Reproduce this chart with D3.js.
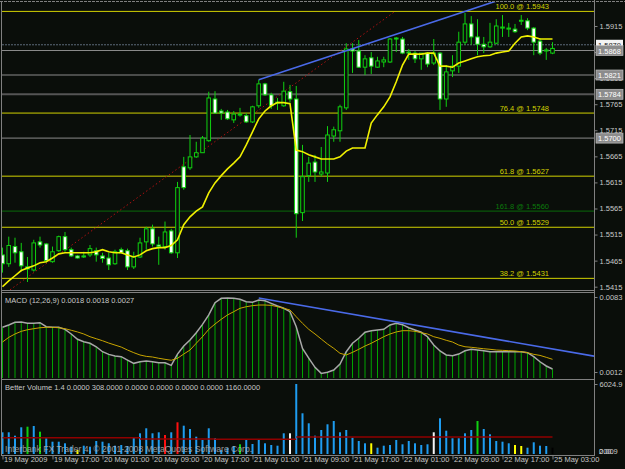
<!DOCTYPE html>
<html><head><meta charset="utf-8">
<script src="https://cdnjs.cloudflare.com/ajax/libs/d3/7.8.5/d3.min.js"></script>
<style>
html,body{margin:0;padding:0;background:#0a0e0a;}
svg{display:block;font-family:"Liberation Sans",Arial,sans-serif;}
</style></head>
<body><svg id="chart" width="625" height="469"></svg>
<script>
// GBPUSD-like H1 bars, 19 May 2009 09:00 .. 25 May 03:00
var openP=[1.5476,1.5459,1.5492,1.5482,1.5453,1.5447,1.5501,1.5497,1.5463,1.5484,
1.5511,1.5486,1.5474,1.5474,1.5476,1.5484,1.5474,1.5470,1.5459,1.5486,
1.5484,1.5453,1.5472,1.5501,1.5526,1.5495,1.5492,1.5522,1.5480,1.5645,
1.5643,1.5664,1.5672,1.5695,1.5775,1.5752,1.5750,1.5735,1.5745,1.5743,
1.5731,1.5762,1.5804,1.5783,1.5768,1.5762,1.5789,1.5775,1.5557,1.5628,
1.5654,1.5631,1.5633,1.5704,1.5714,1.5758,1.5871,1.5867,1.5836,1.5854,
1.5836,1.5846,1.5846,1.5892,1.5890,1.5865,1.5863,1.5852,1.5863,1.5844,
1.5863,1.5775,1.5829,1.5838,1.5884,1.5919,1.5894,1.5880,1.5875,1.5882,
1.5911,1.5909,1.5909,1.5925,1.5925,1.5911,1.5886,1.5867,1.5863];
var highP=[1.5490,1.5511,1.5509,1.5499,1.5472,1.5505,1.5511,1.5499,1.5492,1.5513,
1.5520,1.5490,1.5476,1.5482,1.5495,1.5490,1.5480,1.5480,1.5486,1.5490,
1.5488,1.5482,1.5509,1.5530,1.5534,1.5511,1.5540,1.5526,1.5616,1.5664,
1.5706,1.5693,1.5704,1.5789,1.5790,1.5756,1.5754,1.5752,1.5758,1.5748,
1.5762,1.5812,1.5806,1.5787,1.5777,1.5808,1.5802,1.5800,1.5687,1.5664,
1.5668,1.5683,1.5723,1.5722,1.5764,1.5882,1.5882,1.5888,1.5859,1.5865,
1.5856,1.5856,1.5892,1.5894,1.5894,1.5871,1.5867,1.5863,1.5865,1.5890,
1.5865,1.5840,1.5859,1.5904,1.5940,1.5934,1.5928,1.5894,1.5921,1.5928,
1.5936,1.5921,1.5919,1.5936,1.5930,1.5913,1.5892,1.5873,1.5884];
var lowP=[1.5442,1.5453,1.5461,1.5444,1.5424,1.5444,1.5490,1.5461,1.5461,1.5482,
1.5482,1.5472,1.5469,1.5470,1.5472,1.5463,1.5461,1.5447,1.5457,1.5480,
1.5447,1.5449,1.5470,1.5486,1.5492,1.5457,1.5486,1.5478,1.5470,1.5601,
1.5639,1.5662,1.5672,1.5693,1.5748,1.5735,1.5735,1.5729,1.5741,1.5729,
1.5729,1.5758,1.5781,1.5756,1.5754,1.5760,1.5768,1.5509,1.5541,1.5616,
1.5616,1.5626,1.5616,1.5693,1.5693,1.5754,1.5825,1.5835,1.5821,1.5823,
1.5835,1.5836,1.5844,1.5865,1.5861,1.5850,1.5844,1.5831,1.5836,1.5840,
1.5754,1.5760,1.5817,1.5825,1.5879,1.5879,1.5859,1.5863,1.5873,1.5880,
1.5894,1.5894,1.5902,1.5917,1.5907,1.5859,1.5859,1.5850,1.5861];
var closeP=[1.5459,1.5494,1.5480,1.5455,1.5449,1.5499,1.5495,1.5465,1.5482,1.5511,
1.5486,1.5474,1.5470,1.5472,1.5488,1.5476,1.5469,1.5457,1.5482,1.5480,
1.5453,1.5472,1.5499,1.5526,1.5497,1.5492,1.5520,1.5480,1.5605,1.5605,
1.5664,1.5672,1.5700,1.5777,1.5748,1.5748,1.5737,1.5746,1.5746,1.5731,
1.5760,1.5804,1.5783,1.5762,1.5769,1.5790,1.5775,1.5555,1.5626,1.5652,
1.5635,1.5635,1.5706,1.5716,1.5760,1.5871,1.5867,1.5836,1.5852,1.5838,
1.5848,1.5850,1.5890,1.5890,1.5863,1.5863,1.5852,1.5863,1.5842,1.5863,
1.5775,1.5827,1.5838,1.5884,1.5919,1.5894,1.5880,1.5875,1.5884,1.5915,
1.5913,1.5911,1.5904,1.5926,1.5911,1.5884,1.5863,1.5869,1.5872];
var maP=[1.5415,1.5426,1.5436,1.5446,1.5451,1.5455,1.5461,1.5463,1.5470,1.5478,
1.5480,1.5480,1.5480,1.5480,1.5480,1.5482,1.5486,1.5482,1.5480,1.5480,
1.5476,1.5472,1.5476,1.5484,1.5488,1.5490,1.5490,1.5494,1.5505,1.5534,
1.5549,1.5560,1.5568,1.5595,1.5614,1.5628,1.5641,1.5652,1.5664,1.5687,
1.5712,1.5737,1.5752,1.5762,1.5768,1.5768,1.5766,1.5677,1.5674,1.5668,
1.5664,1.5660,1.5660,1.5660,1.5664,1.5675,1.5681,1.5681,1.5681,1.5729,
1.5745,1.5760,1.5779,1.5808,1.5840,1.5861,1.5861,1.5861,1.5863,1.5863,
1.5838,1.5838,1.5836,1.5844,1.5848,1.5852,1.5856,1.5858,1.5859,1.5863,
1.5865,1.5867,1.5882,1.5894,1.5896,1.5894,1.5890,1.5890,1.5890];
var macdMain=[0.00543,0.00565,0.00590,0.00593,0.00581,0.00581,0.00587,0.00549,0.00543,0.00543,
0.00524,0.00480,0.00430,0.00407,0.00392,0.00359,0.00312,0.00287,0.00271,0.00265,
0.00233,0.00202,0.00217,0.00224,0.00217,0.00208,0.00208,0.00183,0.00290,0.00366,
0.00423,0.00492,0.00571,0.00660,0.00776,0.00818,0.00821,0.00818,0.00808,0.00785,
0.00780,0.00802,0.00795,0.00770,0.00745,0.00723,0.00691,0.00549,0.00344,0.00252,
0.00164,0.00107,0.00117,0.00139,0.00196,0.00312,0.00392,0.00439,0.00496,0.00511,
0.00517,0.00524,0.00565,0.00581,0.00568,0.00539,0.00517,0.00496,0.00454,0.00375,
0.00319,0.00281,0.00274,0.00290,0.00321,0.00335,0.00328,0.00321,0.00312,0.00312,
0.00312,0.00312,0.00312,0.00312,0.00303,0.00265,0.00217,0.00177,0.00148];
var macdSignal=[0.00404,0.00448,0.00480,0.00505,0.00520,0.00530,0.00539,0.00543,0.00543,0.00539,
0.00530,0.00515,0.00499,0.00480,0.00454,0.00435,0.00416,0.00394,0.00375,0.00356,
0.00328,0.00303,0.00281,0.00268,0.00262,0.00250,0.00240,0.00231,0.00250,0.00290,
0.00328,0.00392,0.00454,0.00524,0.00574,0.00619,0.00660,0.00691,0.00723,0.00738,
0.00748,0.00754,0.00754,0.00751,0.00738,0.00723,0.00707,0.00643,0.00581,0.00524,
0.00480,0.00432,0.00385,0.00344,0.00297,0.00281,0.00306,0.00335,0.00366,0.00392,
0.00423,0.00454,0.00480,0.00499,0.00511,0.00511,0.00505,0.00492,0.00480,0.00454,
0.00439,0.00420,0.00404,0.00375,0.00359,0.00354,0.00347,0.00340,0.00335,0.00328,
0.00325,0.00322,0.00319,0.00312,0.00303,0.00287,0.00277,0.00259,0.00240];
var volume=[1868,1868,1576,2299,2351,2411,1920,1352,1059,1059,
921,629,344,715,629,1119,1059,921,715,775,
689,1403,1782,2213,1782,1868,1636,1868,2729,2437,
2152,1490,1205,2213,1352,344,542,689,835,1205,
861,1205,921,775,715,1782,1782,6024.9,3504,2643,
1576,2066,2557,2841,1868,2066,1403,1119,921,921,
542,715,775,1205,835,1119,921,775,835,1868,
3074,2006,1352,1352,1782,2066,2841,2152,1696,1119,
1059,921,775,689,542,1007,715,689,542];
// better volume class per bar: b normal, r climax, g churn, w climax churn, y low
var volClass="bbbbgbgbbbbbybbbbbbbbbbbbbrbrbbbbbbbbbgbbbbbbbwbbbbbbbbbbbbybbbbbbbbbwbbbbbbgbbbbbyybbbb".split("");
var avgStart=[0,22,34,47], avgEnd=[22,34,47,88], avgLevel=[1403,1292,1266,1464];

var levelPrices=[1.5879,1.5868,1.5821,1.5784,1.5700];
var fibPct=["100.0","76.4","61.8","161.8","50.0","38.2"];
var fibPrice=[1.5943,1.5748,1.5627,1.5560,1.5529,1.5431];
var fibBase=[[1.2,1.5409],[62.8,1.5943]];
var priceTrend=[[41,1.5812],[74,1.5943]];
var macdTrend=[[41,0.0082],[88,0.00338]];
var priceTicks=[1.5915,1.5865,1.5815,1.5765,1.5715,1.5665,1.5615,1.5565,1.5515,1.5465,1.5415];
var macdTicks=[0.0083,0.0012];
var volTicks=[6024.9];
var volBottomLabels=["200.9","0.00"];
var timeTickIdx=[0,8,16,24,32,40,48,56,64,72,80,88];
var timeLabels=["19 May 2009","19 May 17:00","20 May 01:00","20 May 09:00","20 May 17:00","21 May 01:00",
"21 May 09:00","21 May 17:00","22 May 01:00","22 May 09:00","22 May 17:00","25 May 03:00"];

var BG="#0a0e0a", FRAME="#808080", TXT="#c8c8c8", CANDLE="#10d010";
var plotR=594, mainTop=2, mainBot=290, macdTop=292, macdBot=378, volTop=380, volBot=455;

var svg=d3.select("#chart");
svg.append("rect").attr("width",625).attr("height",469).attr("fill",BG);

var x=d3.scaleLinear().domain([0,88]).range([2.5,552.5]);
var yP=d3.scaleLinear().domain([1.5415,1.5915]).range([286.7,26]);
var yM=d3.scaleLinear().domain([0.0012,0.0083]).range([372,297]);
var yV=d3.scaleLinear().domain([0,6024.9]).range([454,384]);
var idx=d3.range(openP.length);

var defs=svg.append("defs");
function clip(id,y0,y1){
  defs.append("clipPath").attr("id",id).append("rect")
    .attr("x",2).attr("y",y0).attr("width",plotR-2).attr("height",y1-y0);
  return svg.append("g").attr("clip-path","url(#"+id+")");
}
var gMain=clip("cMain",mainTop,mainBot);
var gMacd=clip("cMacd",macdTop,macdBot);
var gVol=clip("cVol",volTop,volBot);

// horizontal level lines
gMain.selectAll(".lvl").data(levelPrices).enter().append("line")
  .attr("x1",2).attr("x2",plotR)
  .attr("y1",function(d){return yP(d);}).attr("y2",function(d){return yP(d);})
  .attr("stroke",function(d,i){return i==0?"#5c6a78":(i==3?"#555555":"#8a8a8a");})
  .attr("stroke-width",function(d,i){return i==3?2:1;})
  .attr("stroke-dasharray",function(d,i){return i==0?"2,1":null;});

// fibonacci levels
gMain.selectAll(".fib").data(fibPrice).enter().append("line")
  .attr("x1",2).attr("x2",plotR)
  .attr("y1",function(d){return yP(d);}).attr("y2",function(d){return yP(d);})
  .attr("stroke",function(d,i){return fibPct[i]=="161.8"?"#0a6a0a":"#d2d200";})
  .attr("stroke-width",1);
gMain.selectAll(".fibt").data(fibPrice).enter().append("text")
  .attr("x",549).attr("y",function(d){return yP(d)-2;})
  .attr("text-anchor","end").attr("font-size","7.5px")
  .attr("fill",function(d,i){return fibPct[i]=="161.8"?"#0a7a0a":"#d2d200";})
  .text(function(d,i){return fibPct[i]+" @ "+d.toFixed(4);});

// fib base line (red dotted)
gMain.append("line")
  .attr("x1",x(fibBase[0][0])).attr("y1",yP(fibBase[0][1]))
  .attr("x2",x(fibBase[1][0])).attr("y2",yP(fibBase[1][1]))
  .attr("stroke","#b01010").attr("stroke-dasharray","1.5,2.5");

// candles
var cg=gMain.selectAll(".c").data(idx).enter().append("g");
cg.append("line")
  .attr("x1",function(i){return x(i);}).attr("x2",function(i){return x(i);})
  .attr("y1",function(i){return yP(highP[i]);}).attr("y2",function(i){return yP(lowP[i]);})
  .attr("stroke",CANDLE).attr("stroke-width",1);
cg.append("rect")
  .attr("x",function(i){return x(i)-1.8;}).attr("width",3.6)
  .attr("y",function(i){return yP(Math.max(openP[i],closeP[i]));})
  .attr("height",function(i){return Math.max(1,Math.abs(yP(openP[i])-yP(closeP[i])));})
  .attr("fill",function(i){return closeP[i]>=openP[i]?BG:"#ffffff";})
  .attr("stroke",CANDLE).attr("stroke-width",1);

// moving average
gMain.append("path").datum(idx)
  .attr("d",d3.line().x(function(i){return x(i);}).y(function(i){return yP(maP[i]);}))
  .attr("fill","none").attr("stroke","#f0f000").attr("stroke-width",1.6);

function ray(t,ys){
  var a=t[0],b=t[1],xe=x.invert(plotR);
  var ve=a[1]+(b[1]-a[1])*(xe-a[0])/(b[0]-a[0]);
  return [[x(a[0]),ys(a[1])],[plotR,ys(ve)]];
}
var pr=ray(priceTrend,yP);
gMain.append("line").attr("x1",pr[0][0]).attr("y1",pr[0][1]).attr("x2",pr[1][0]).attr("y2",pr[1][1])
  .attr("stroke","#4a6ae8").attr("stroke-width",1.6);

// MACD
gMacd.selectAll(".h").data(idx).enter().append("line")
  .attr("x1",function(i){return x(i);}).attr("x2",function(i){return x(i);})
  .attr("y1",function(i){return yM(macdMain[i]);}).attr("y2",macdBot)
  .attr("stroke","#00a400").attr("stroke-width",1);
gMacd.append("path").datum(idx)
  .attr("d",d3.line().x(function(i){return x(i);}).y(function(i){return yM(macdMain[i]);}))
  .attr("fill","none").attr("stroke","#a8a8a8").attr("stroke-width",1.5);
gMacd.append("path").datum(idx)
  .attr("d",d3.line().x(function(i){return x(i);}).y(function(i){return yM(macdSignal[i]);}))
  .attr("fill","none").attr("stroke","#c8a400").attr("stroke-width",1);
var mr=ray(macdTrend,yM);
gMacd.append("line").attr("x1",mr[0][0]).attr("y1",mr[0][1]).attr("x2",mr[1][0]).attr("y2",mr[1][1])
  .attr("stroke","#4a6ae8").attr("stroke-width",1.6);

// volume
var volColor={b:"#1e9cf0",r:"#ff1010",g:"#10d010",w:"#f4f4f4",y:"#ffff00"};
gVol.selectAll(".v").data(idx).enter().append("rect")
  .attr("x",function(i){return x(i)-1;}).attr("width",2)
  .attr("y",function(i){return yV(volume[i]);})
  .attr("height",function(i){return yV(0)-yV(volume[i]);})
  .attr("fill",function(i){return volColor[volClass[i]];});
gVol.selectAll(".avg").data(avgLevel).enter().append("line")
  .attr("x1",function(d,k){return x(avgStart[k]);}).attr("x2",function(d,k){return x(avgEnd[k]);})
  .attr("y1",function(d){return yV(d);}).attr("y2",function(d){return yV(d);})
  .attr("stroke","#900000").attr("stroke-width",1.5);

// frames
var fr=svg.append("g").attr("stroke",FRAME).attr("fill","none");
fr.append("line").attr("x1",0).attr("x2",625).attr("y1",1.5).attr("y2",1.5).attr("stroke-dasharray","3,1");
fr.append("line").attr("x1",1.5).attr("x2",1.5).attr("y1",1).attr("y2",volBot);
[290.5,292.5,379.5].forEach(function(y){
  fr.append("line").attr("x1",1).attr("x2",plotR).attr("y1",y).attr("y2",y);
});
fr.append("line").attr("x1",1).attr("x2",plotR+1).attr("y1",volBot+0.5).attr("y2",volBot+0.5);
fr.append("line").attr("x1",plotR+0.5).attr("x2",plotR+0.5).attr("y1",0).attr("y2",volBot+1);

// axes
function styleAxis(g){
  g.select(".domain").remove();
  g.selectAll("line").attr("stroke",FRAME);
  g.selectAll("text").attr("fill",TXT).attr("font-size","7.5px")
    .attr("font-family","Liberation Sans, Arial, sans-serif");
}
svg.append("g").attr("transform","translate("+(plotR+0.5)+",0)")
  .call(d3.axisRight(yP).tickValues(priceTicks).tickSize(3).tickPadding(2).tickFormat(d3.format(".4f")))
  .call(styleAxis);
svg.append("g").attr("transform","translate("+(plotR+0.5)+",0)")
  .call(d3.axisRight(yM).tickValues(macdTicks).tickSize(3).tickPadding(2).tickFormat(d3.format(".4f")))
  .call(styleAxis);
svg.append("g").attr("transform","translate("+(plotR+0.5)+",0)")
  .call(d3.axisRight(yV).tickValues(volTicks).tickSize(3).tickPadding(2).tickFormat(d3.format(".1f")))
  .call(styleAxis);
svg.selectAll(".vb").data(volBottomLabels).enter().append("text")
  .attr("x",599).attr("y",454).attr("fill",TXT).attr("font-size","7.5px").text(String);

var tax=svg.append("g").attr("transform","translate(0,"+(volBot+0.5)+")")
  .call(d3.axisBottom(x).tickValues(timeTickIdx).tickSize(4)
    .tickFormat(function(d,i){return timeLabels[i];}))
  .call(styleAxis);
tax.selectAll("text").attr("text-anchor","start").attr("dx","1").attr("dy","0.5em").attr("y",3);

// price labels on the axis
var pl=svg.selectAll(".pl").data(levelPrices).enter().append("g")
  .attr("transform",function(d){return "translate(596,"+(yP(d)-5)+")";});
pl.append("rect").attr("width",27).attr("height",10)
  .attr("fill",function(d,i){return i==0?"#f4f4f4":"#8c8c8c";})
  .attr("stroke",function(d,i){return i==0?"none":"#c0c0c0";}).attr("stroke-width",0.7);
pl.append("text").attr("x",2).attr("y",8).attr("font-size","7.5px")
  .attr("fill",function(d,i){return i==0?"#202020":"#ffffff";})
  .text(function(d){return d.toFixed(4);});

// indicator captions
svg.append("text").attr("x",5).attr("y",303).attr("fill",TXT).attr("font-size","7.5px")
  .text("MACD (12,26,9) 0.0018 0.0018 0.0027");
svg.append("text").attr("x",5).attr("y",390).attr("fill",TXT).attr("font-size","7.5px")
  .text("Better Volume 1.4 0.0000 308.0000 0.0000 0.0000 0.0000 0.0000 1160.0000");
svg.append("text").attr("x",5).attr("y",452).attr("fill","#b0b0b0").attr("opacity",0.85)
  .attr("font-size","8.6px")
  .text("Interbank FX Trader 4, \u00a9 2001-2008 MetaQuotes Software Corp.");
</script></body></html>
